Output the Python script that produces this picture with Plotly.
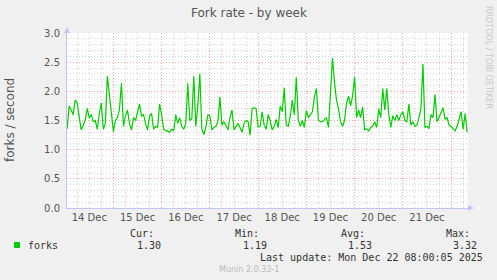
import pandas as pd
import plotly.graph_objects as go

# ---- data ----
start_time = "2025-12-14 01:00"
forks = [
    1.36, 1.75, 1.68, 1.60, 1.85, 1.80, 1.55, 1.34, 1.42, 1.51, 1.71, 1.54, 1.60, 1.48, 1.50,
    1.35, 1.62, 1.80, 1.35, 1.45, 2.26, 1.95, 1.65, 1.31, 1.50, 1.55, 1.68, 2.14, 1.40,
    1.58, 1.68, 1.45, 1.34, 1.55, 1.50, 1.62, 1.78, 1.57, 1.60, 1.45, 1.34, 1.58, 1.62, 1.35,
    1.40, 1.38, 1.78, 1.60, 1.35, 1.33, 1.31, 1.30, 1.35, 1.32, 1.60, 1.45, 1.55, 1.40,
    1.35, 1.45, 2.14, 1.50, 1.53, 2.26, 1.40, 1.75, 2.30, 1.35, 1.26, 1.38, 1.60, 1.57, 1.34,
    1.38, 1.40, 1.48, 1.90, 1.42, 1.48, 1.40, 1.34, 1.55, 1.68, 1.34, 1.40, 1.45, 1.38, 1.30,
    1.45, 1.50, 1.48, 1.25, 1.70, 1.72, 1.70, 1.39, 1.40, 1.65, 1.42, 1.35, 1.60, 1.50, 1.34,
    1.40, 1.52, 1.38, 1.75, 1.65, 2.06, 1.42, 1.40, 1.58, 1.85, 1.60, 2.24, 1.50, 1.40,
    1.50, 1.38, 1.67, 1.55, 1.60, 1.65, 1.90, 2.05, 1.50, 1.48, 1.48, 1.52, 1.55, 1.38, 2.00,
    2.57, 2.15, 1.85, 1.70, 1.48, 1.40, 1.50, 1.80, 1.92, 1.75, 1.92, 2.25, 1.55, 1.68,
    1.55, 1.73, 1.34, 1.36, 1.32, 1.38, 1.40, 1.48, 1.38, 1.70, 1.55, 2.05, 1.68, 2.05, 1.60,
    1.38, 1.58, 1.50, 1.60, 1.50, 1.60, 1.65, 1.50, 1.48, 1.78, 1.42, 1.48, 1.40, 1.42, 1.55,
    1.70, 2.47, 1.38, 1.40, 1.36, 1.60, 1.55, 1.95, 1.48, 1.55, 1.65, 1.72, 1.52, 1.55, 1.42,
    1.40, 1.36, 1.32, 1.40, 1.55, 1.65, 1.35, 1.62, 1.30,
]
x_range = ["2025-12-14 00:55", "2025-12-22 08:25"]
y_range = [0, 3.0]
stat_labels = ["Cur:", "Min:", "Avg:", "Max:"]
stat_values = ["1.30", "1.19", "1.53", "3.32"]
series_name = "forks"
title = "Fork rate - by week"
y_title = "forks / second"
last_update = "Last update: Mon Dec 22 08:00:05 2025"
footer = "Munin 2.0.33-1"
side_text = "RRDTOOL / TOBI OETIKER"

times = pd.date_range(start_time, periods=len(forks), freq="h")

# ---- layout geometry (pixels) ----
W, H = 497, 280
L, R, T, B = 67, 468, 33, 208


def px(x):
    return (x - L) / (R - L)


def py(y):
    return (B - y) / (B - T)


GREEN = "#00CC00"
AXIS = "#C4C4F4"
MAJOR = "rgba(250,120,120,0.65)"
MINOR = "rgba(200,200,200,0.75)"

fig = go.Figure()
fig.add_trace(go.Scatter(x=times, y=forks, mode="lines", name=series_name,
                         line=dict(color=GREEN, width=1.2), hoverinfo="skip"))

fig.update_layout(
    width=W, height=H,
    margin=dict(l=L, r=W - R, t=T, b=H - B, pad=0),
    paper_bgcolor="#F0F0F0", plot_bgcolor="#FFFFFF",
    showlegend=False,
    font=dict(family="DejaVu Sans", size=10, color="#555555"),
)
fig.update_xaxes(
    type="date", range=x_range, tick0="2025-12-14", dtick=86400000,
    ticklabelmode="period", tickformat="%d %b", ticks="",
    showgrid=True, gridcolor=MAJOR, griddash="1px,2px", gridwidth=1,
    minor=dict(dtick=21600000, tick0="2025-12-14", showgrid=True,
               gridcolor=MINOR, griddash="1px,2px", gridwidth=1),
    showline=True, linecolor=AXIS, linewidth=1, zeroline=False,
    tickfont=dict(family="DejaVu Sans", size=10, color="#555555"),
    fixedrange=True,
)
fig.update_yaxes(
    range=y_range, dtick=0.5, tickformat=".1f", ticks="outside", ticklen=4,
    tickcolor="rgba(0,0,0,0)",
    showgrid=True, gridcolor=MAJOR, griddash="1px,2px", gridwidth=1,
    minor=dict(dtick=0.1, showgrid=True, gridcolor=MINOR, griddash="1px,2px", gridwidth=1),
    showline=True, linecolor=AXIS, linewidth=1, zeroline=False,
    tickfont=dict(family="DejaVu Sans", size=10, color="#555555"),
    fixedrange=True,
)

shapes = []
# axis arrows
shapes.append(dict(type="path", xref="paper", yref="paper",
                   path=f"M {px(64)} {py(33)} L {px(70)} {py(33)} L {px(67)} {py(27)} Z",
                   fillcolor=AXIS, line=dict(width=0)))
shapes.append(dict(type="path", xref="paper", yref="paper",
                   path=f"M {px(468)} {py(205)} L {px(468)} {py(211)} L {px(474)} {py(208)} Z",
                   fillcolor=AXIS, line=dict(width=0)))
# legend swatch
shapes.append(dict(type="rect", xref="paper", yref="paper",
                   x0=px(14), x1=px(20), y0=py(248), y1=py(242),
                   fillcolor=GREEN, line=dict(width=0)))
fig.update_layout(shapes=shapes)

ann = []


def text(x, y, s, size=10, color="#333333", family="DejaVu Sans Mono",
         xanchor="left", angle=0):
    ann.append(dict(x=px(x), y=py(y), xref="paper", yref="paper", text=s,
                    showarrow=False, xanchor=xanchor, yanchor="middle",
                    textangle=angle, borderpad=0,
                    font=dict(family=family, size=size, color=color)))


text(248.5, 13, title, size=12, color="#555555", family="DejaVu Sans", xanchor="center")
text(10, 120, y_title, size=12, color="#555555", family="DejaVu Sans", xanchor="center", angle=-90)
text(489, 57, side_text, size=8, color="#C8C8C8", family="DejaVu Sans", xanchor="center", angle=90)
text(27, 245, series_name)
label_right = [155, 260, 366, 471]
value_right = [162, 268, 373, 478]
for lab, val, xl, xv in zip(stat_labels, stat_values, label_right, value_right):
    text(xl, 233, lab, xanchor="right")
    text(xv, 245, val, xanchor="right")
text(484, 257, last_update, xanchor="right")
text(249, 269, footer, size=8, color="#BBBBBB", family="DejaVu Sans", xanchor="center")
fig.update_layout(annotations=ann)

fig.write_html("out.html", config={"displayModeBar": False})
